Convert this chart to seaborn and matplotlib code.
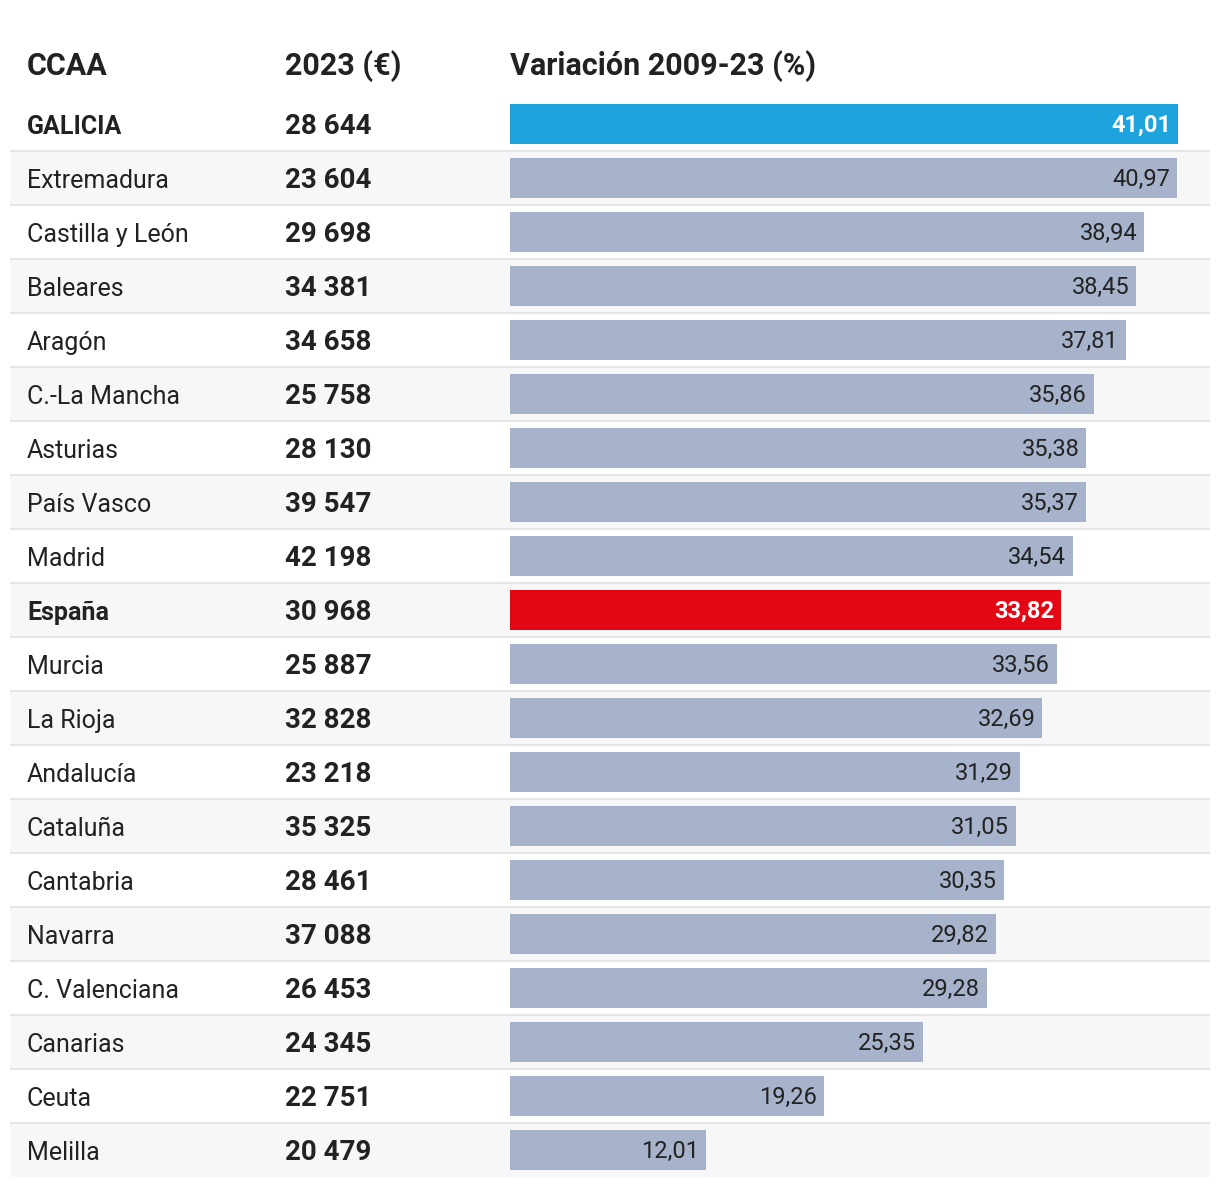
import matplotlib
matplotlib.use("Agg")
import matplotlib.pyplot as plt
import matplotlib.transforms as mtransforms
import pandas as pd
import seaborn as sns

# Datos de la tabla
ccaa = ["GALICIA", "Extremadura", "Castilla y León", "Baleares", "Aragón",
        "C.-La Mancha", "Asturias", "País Vasco", "Madrid", "España",
        "Murcia", "La Rioja", "Andalucía", "Cataluña", "Cantabria",
        "Navarra", "C. Valenciana", "Canarias", "Ceuta", "Melilla"]
salario_2023 = [28644, 23604, 29698, 34381, 34658, 25758, 28130, 39547, 42198, 30968,
                25887, 32828, 23218, 35325, 28461, 37088, 26453, 24345, 22751, 20479]
variacion = [41.01, 40.97, 38.94, 38.45, 37.81, 35.86, 35.38, 35.37, 34.54, 33.82,
             33.56, 32.69, 31.29, 31.05, 30.35, 29.82, 29.28, 25.35, 19.26, 12.01]
destacados = {"GALICIA": "#1ea3dc", "España": "#e30613"}
color_base = "#a7b2cb"
cabeceras = ["CCAA", "2023 (€)", "Variación 2009-23 (%)"]

df = pd.DataFrame({"ccaa": ccaa, "valor": salario_2023, "var": variacion})

sns.set_theme(style="white")
plt.rcParams["font.family"] = ["Roboto", "DejaVu Sans"]

W, H = 1220, 1186
fig = plt.figure(figsize=(W / 100, H / 100), dpi=100)
ax = fig.add_axes([0, 0, 1, 1])

# escala: 0 en x=510 px, 41,01 en x=1178 px
px_unidad = (1178 - 510) / 41.01
fila_px = 54
y0_px = 124
dy = 3 / fila_px  # pequeño ajuste vertical del texto

colores = [destacados.get(c, color_base) for c in ccaa]
sns.barplot(data=df, x="var", y="ccaa", hue="ccaa", palette=colores, legend=False,
            orient="h", width=40 / fila_px, saturation=1, linewidth=0, ax=ax, zorder=3)

ax.set_xlim(-510 / px_unidad, (W - 510) / px_unidad)
ax.set_ylim((H - y0_px) / fila_px, -y0_px / fila_px)
ax.axis("off")

trans = mtransforms.blended_transform_factory(ax.transAxes, ax.transData)
n = len(ccaa)

# fondos alternos y separadores
for i in range(n):
    if i % 2 == 1:
        ax.fill_between([10 / W, 1210 / W], i - 0.5, i + 0.5, color="#f7f7f7",
                        transform=trans, zorder=0, linewidth=0)
    if i < n - 1:
        ax.plot([10 / W, 1210 / W], [i + 0.5, i + 0.5], color="#e6e6e6", lw=1.5,
                transform=trans, zorder=1, solid_capstyle="butt")

# cabeceras
y_cab = (63 - y0_px) / fila_px
for xp, txt in zip([27, 285, 510], cabeceras):
    ax.text(xp / W, y_cab + dy, txt, transform=trans, ha="left", va="center",
            fontsize=22, fontweight="bold", color="#222222")

# texto de filas
for i, (c, v, p) in enumerate(zip(ccaa, salario_2023, variacion)):
    bold = c in destacados
    ax.text(27 / W, i + dy, c, transform=trans, ha="left", va="center", fontsize=18,
            fontweight="bold" if bold else "normal", color="#222222")
    ax.text(285 / W, i + dy, f"{v:,}".replace(",", " "), transform=trans, ha="left",
            va="center", fontsize=20, fontweight="bold", color="#222222")
    ax.annotate(f"{p:.2f}".replace(".", ","), xy=(p, i + dy / 3), xytext=(-7, 0),
                textcoords="offset pixels", ha="right", va="center", fontsize=17,
                fontweight="bold" if bold else "normal",
                color="white" if bold else "#222222", zorder=4)

fig.savefig("out.png", dpi=100)
